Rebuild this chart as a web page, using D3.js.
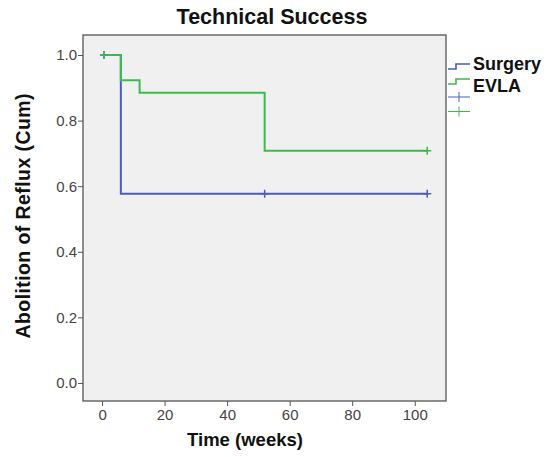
<!DOCTYPE html>
<html>
<head>
<meta charset="utf-8">
<script src="https://cdn.jsdelivr.net/npm/d3@7"></script>
<style>
  body { margin: 0; background: #fff; }
  svg { font-family: Arial, "Liberation Sans", sans-serif; }
</style>
</head>
<body>
<svg id="chart" width="548" height="457"></svg>
<script>
// 生存曲線のデータ (time, cum)
const surgerySteps = [[0.6, 1.0], [6, 0.577], [104, 0.577]];
const evlaSteps = [[0.6, 1.0], [6, 0.923], [12, 0.885], [52, 0.708], [104, 0.708]];
// 打ち切りの位置
const surgeryCensor = [[0.6, 1.0], [52, 0.577], [104, 0.577]];
const evlaCensor = [[0.6, 1.0], [104, 0.708]];
const xTicks = [0, 20, 40, 60, 80, 100];
const yTicks = [0.0, 0.2, 0.4, 0.6, 0.8, 1.0];
const seriesNames = ["Surgery", "EVLA"];
const colors = ["#4a5cb8", "#3dba4e"];

const svg = d3.select("#chart");
const margin = { top: 35, right: 102, bottom: 56, left: 83 };
const width = 548, height = 457;

const x = d3.scaleLinear().domain([-6.1, 110]).range([margin.left, width - margin.right]);
const y = d3.scaleLinear().domain([-0.055, 1.061]).range([height - margin.bottom, margin.top]);

// 背景
svg.append("rect")
  .attr("x", margin.left).attr("y", margin.top)
  .attr("width", width - margin.left - margin.right)
  .attr("height", height - margin.top - margin.bottom)
  .attr("fill", "#f0f0f0");

// 軸
const xAxis = svg.append("g")
  .attr("transform", `translate(0,${height - margin.bottom})`)
  .call(d3.axisBottom(x).tickValues(xTicks).tickSize(5).tickSizeOuter(0));
const yAxis = svg.append("g")
  .attr("transform", `translate(${margin.left},0)`)
  .call(d3.axisLeft(y).tickValues(yTicks).tickFormat(d3.format(".1f")).tickSize(5).tickSizeOuter(0));
[xAxis, yAxis].forEach(a => {
  a.select(".domain").remove();
  a.selectAll("line").attr("stroke", "#555");
  a.selectAll("text").attr("fill", "#444").style("font-size", "15px");
});
yAxis.selectAll("text").attr("x", -6);

// 枠
svg.append("rect")
  .attr("x", margin.left).attr("y", margin.top)
  .attr("width", width - margin.left - margin.right)
  .attr("height", height - margin.top - margin.bottom)
  .attr("fill", "none").attr("stroke", "#555").attr("stroke-width", 1.3);

// 曲線
const line = d3.line().x(d => x(d[0])).y(d => y(d[1])).curve(d3.curveStepAfter);
[surgerySteps, evlaSteps].forEach((s, i) => {
  svg.append("path").attr("d", line(s))
    .attr("fill", "none").attr("stroke", colors[i]).attr("stroke-width", 2);
});

// 打ち切りマーク
function cross(g, cx, cy, color, hw = 4, hh = 4) {
  g.append("line").attr("x1", cx - hw).attr("x2", cx + hw).attr("y1", cy).attr("y2", cy)
    .attr("stroke", color).attr("stroke-width", 1.5);
  g.append("line").attr("x1", cx).attr("x2", cx).attr("y1", cy - hh).attr("y2", cy + hh)
    .attr("stroke", color).attr("stroke-width", 1.5);
}
surgeryCensor.forEach(d => cross(svg, x(d[0]), y(d[1]), colors[0]));
evlaCensor.forEach(d => cross(svg, x(d[0]), y(d[1]), colors[1]));

// 凡例
const lg = svg.append("g");
const symY = [69, 84];
const textY = [70, 92];
seriesNames.forEach((name, i) => {
  const yy = symY[i];
  lg.append("path")
    .attr("d", `M448,${yy}H456V${yy - 5}H470`)
    .attr("fill", "none").attr("stroke", colors[i]).attr("stroke-width", 1.6);
  lg.append("text").attr("x", 473).attr("y", textY[i])
    .style("font-size", "18px").style("font-weight", "bold").attr("fill", "#111")
    .text(name);
});
cross(lg, 459, 97, colors[0], 11, 5);
cross(lg, 459, 111.5, colors[1], 11, 5);
lg.selectAll("line").attr("stroke-width", 1);

// タイトル・軸ラベル
svg.append("text").attr("x", 272).attr("y", 24).attr("text-anchor", "middle")
  .style("font-size", "21.5px").style("font-weight", "bold").attr("fill", "#111")
  .text("Technical Success");
svg.append("text").attr("x", 245).attr("y", 446).attr("text-anchor", "middle")
  .style("font-size", "18.5px").style("font-weight", "bold").attr("fill", "#111")
  .text("Time (weeks)");
svg.append("text").attr("transform", "translate(30,216) rotate(-90)").attr("text-anchor", "middle")
  .style("font-size", "19.5px").style("font-weight", "bold").attr("fill", "#111")
  .attr("textLength", 245).attr("lengthAdjust", "spacing")
  .text("Abolition of Reflux (Cum)");
</script>
</body>
</html>
